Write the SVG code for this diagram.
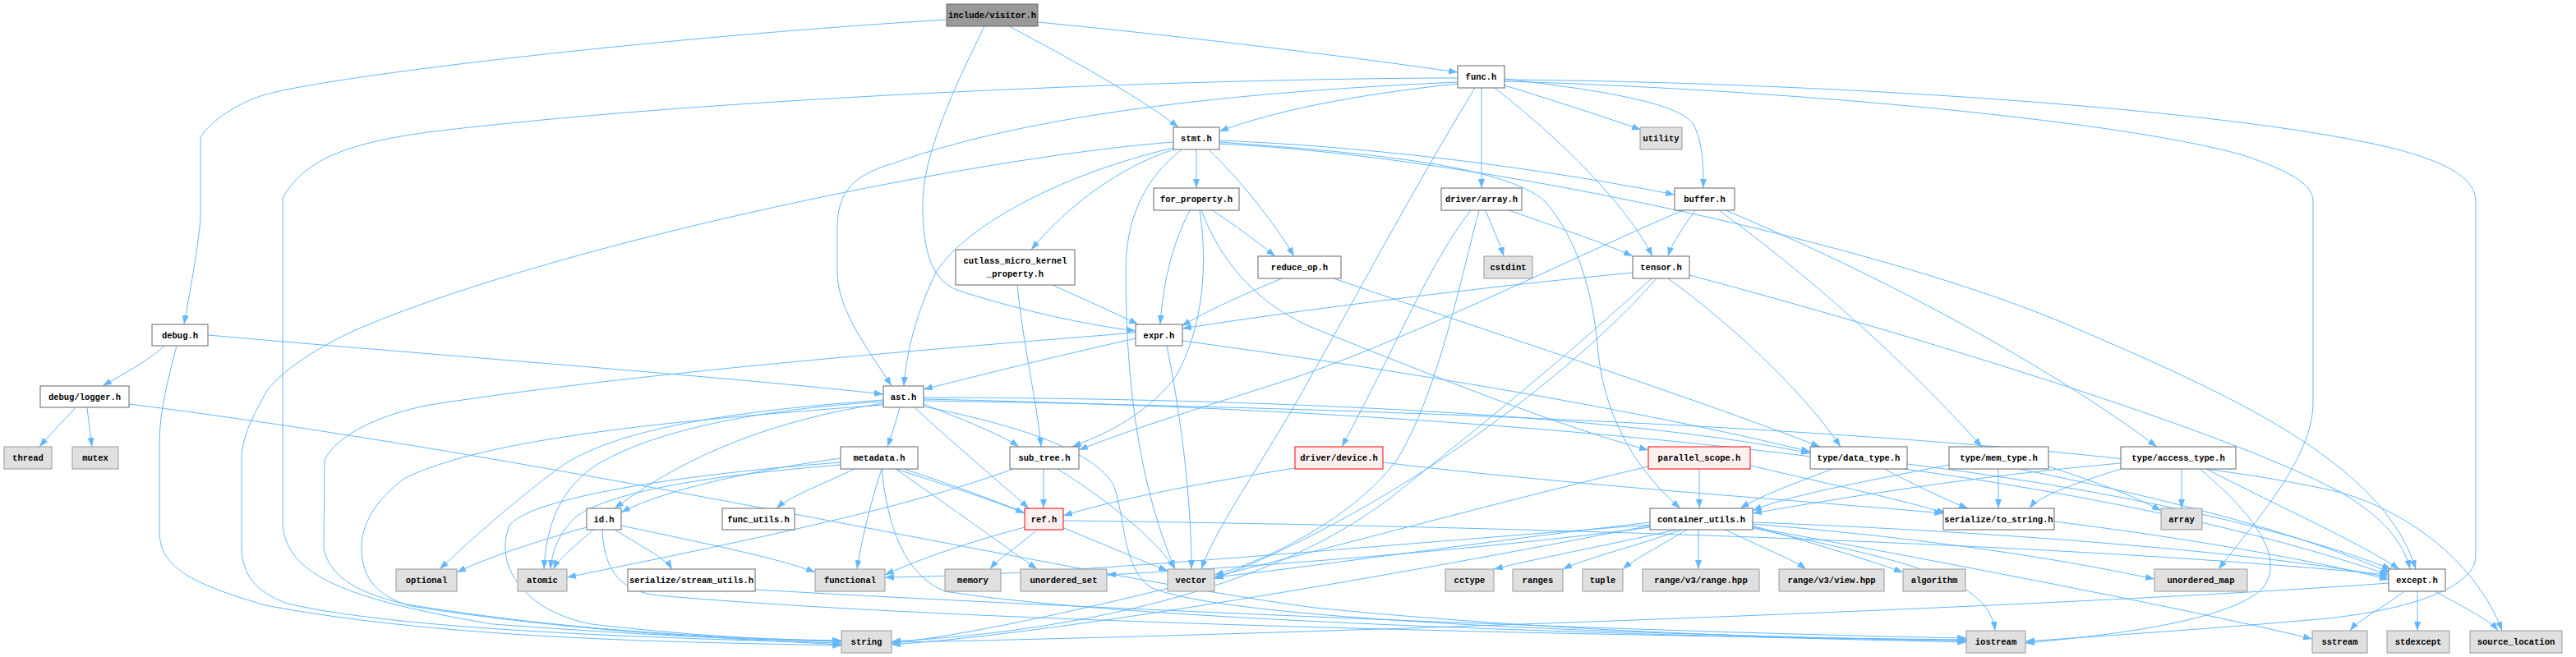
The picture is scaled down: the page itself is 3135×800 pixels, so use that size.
<svg xmlns="http://www.w3.org/2000/svg" width="3135" height="800" viewBox="0 0 3135 800">
<defs>
<marker id="ah" markerWidth="11" markerHeight="8" refX="11" refY="4" orient="auto" markerUnits="userSpaceOnUse"><path d="M0,0 L11,4 L0,8 z" fill="#63b8ff"/></marker>
<style>
rect{stroke-width:1}
.n rect{fill:#ffffff;stroke:#666666}
.s rect{fill:#e0e0e0;stroke:#999999}
.r rect{fill:#fff0f0;stroke:#ff0000}
.root rect{fill:#999999;stroke:#666666}
text{font-family:"Liberation Mono","DejaVu Sans Mono",monospace;font-size:10.5px;font-weight:bold;fill:#000000;text-anchor:middle}
#edges path{fill:none;stroke:#63b8ff;stroke-width:1;marker-end:url(#ah)}
</style>
</defs>
<rect width="3135" height="800" fill="#ffffff"/>
<g id="edges">
<path d="M1152,24 C800,45 380,95 317,117 C280,130 255,150 244,167 L244,267 C240,310 230,360 224,395"/>
<path d="M1198,32 C1150,130 1120,200 1123,260 C1125,320 1140,345 1170,355 C1250,380 1320,395 1382,403"/>
<path d="M1263,27 C1450,45 1650,70 1774,88"/>
<path d="M1228,32 C1300,70 1390,120 1434,155"/>
<path d="M1774,95 C1500,95 900,115 520,161 C420,175 370,195 344,241 L344,640 C350,700 420,730 600,760 C800,775 950,780 1024,781"/>
<path d="M1774,100 C1500,112 1250,140 1090,198 C1030,215 1019,240 1019,280 L1019,333 C1020,380 1060,430 1085,470"/>
<path d="M1774,102 C1650,115 1550,135 1484,160"/>
<path d="M1795,107 C1720,230 1640,380 1600,450 C1540,560 1480,640 1462,693"/>
<path d="M1803,107 L1803,229"/>
<path d="M1819,107 C1900,170 1980,250 2011,312"/>
<path d="M1831,104 C1900,125 1960,145 1997,158"/>
<path d="M1831,96 C1950,110 2040,125 2060,150 C2072,170 2073,200 2073,229"/>
<path d="M1831,99 C2200,110 2600,150 2733,190 C2790,210 2815,225 2815,245 L2815,490 C2815,560 2740,640 2700,693"/>
<path d="M1831,97 C2200,100 2700,130 2910,180 C2970,195 3013,215 3013,245 L3013,677 C3013,710 2950,740 2833,753 C2700,765 2550,775 2465,781"/>
<path d="M1428,173 C1200,190 700,290 439,399 C380,425 330,460 320,485 C300,520 294,540 294,560 L294,667 C295,700 310,720 350,735 C500,770 850,778 1024,783"/>
<path d="M1428,180 C1300,210 1180,270 1140,330 C1115,380 1103,430 1100,470"/>
<path d="M1428,182 C1360,205 1300,250 1255,304"/>
<path d="M1438,182 C1390,220 1370,270 1370,330 C1370,480 1390,600 1430,693"/>
<path d="M1456,182 L1456,229"/>
<path d="M1471,182 C1510,220 1550,270 1575,312"/>
<path d="M1484,171 C1700,180 1900,210 2038,237"/>
<path d="M1484,173 C1650,185 1830,200 1880,245 C1920,290 1940,360 1945,430 C1955,520 2000,580 2045,619"/>
<path d="M1484,175 C1800,190 2300,300 2527,400 C2700,475 2900,560 2940,693"/>
<path d="M1448,256 C1425,300 1415,350 1412,395"/>
<path d="M1460,256 C1470,320 1465,400 1430,460 C1390,510 1340,530 1305,544"/>
<path d="M1475,256 C1505,275 1530,295 1552,312"/>
<path d="M1462,256 C1490,330 1540,375 1600,400 C1750,460 1900,520 2006,548"/>
<path d="M1560,339 C1510,360 1470,378 1438,397"/>
<path d="M1623,339 C1800,400 2050,480 2215,544"/>
<path d="M1281,347 C1320,365 1355,380 1385,395"/>
<path d="M1238,347 C1245,420 1262,490 1267,544"/>
<path d="M1790,256 C1740,320 1700,420 1633,544"/>
<path d="M1800,256 C1780,330 1750,480 1700,560 C1640,640 1520,690 1478,700"/>
<path d="M1808,256 C1815,275 1825,295 1830,312"/>
<path d="M1836,256 C1890,275 1950,295 1987,312"/>
<path d="M2063,256 C2050,275 2035,295 2030,312"/>
<path d="M2048,256 C1900,320 1700,420 1560,465 C1450,500 1370,525 1313,548"/>
<path d="M2092,256 C2180,320 2300,420 2412,544"/>
<path d="M2100,256 C2300,340 2500,450 2625,544"/>
<path d="M2056,335 C2300,400 2700,520 2850,600 C2900,630 2925,660 2933,693"/>
<path d="M2030,339 C2100,390 2190,470 2240,544"/>
<path d="M1987,332 C1800,350 1600,375 1439,400"/>
<path d="M2010,339 C1900,440 1800,520 1700,600 C1550,720 1300,770 1085,781"/>
<path d="M2016,339 C1920,450 1700,620 1478,705"/>
<path d="M1382,412 C1280,435 1200,455 1124,474"/>
<path d="M1382,405 C1200,420 800,450 523,493 C460,505 410,530 395,560 L394,667 C400,700 430,720 490,735 C700,770 900,778 1024,780"/>
<path d="M1420,421 C1440,520 1450,620 1450,693"/>
<path d="M1439,415 C1700,450 2000,500 2203,550"/>
<path d="M1095,496 C1090,515 1085,530 1080,544"/>
<path d="M1113,496 C1160,540 1220,590 1252,619"/>
<path d="M1124,492 C1170,510 1220,530 1240,544"/>
<path d="M1075,487 C900,500 750,520 680,570 C620,615 570,660 535,693"/>
<path d="M1075,489 C900,500 780,530 720,570 C680,600 665,640 662,693"/>
<path d="M1075,491 C950,510 840,550 748,619"/>
<path d="M1075,493 C850,510 600,530 493,582 C455,610 440,640 440,667 C440,700 455,725 500,738 C700,770 900,778 1024,785"/>
<path d="M1124,495 C1250,520 1330,550 1355,590 C1370,630 1365,690 1400,715 C1500,760 2100,775 2393,780"/>
<path d="M1124,484 C1600,485 2000,510 2203,552"/>
<path d="M1124,486 C1800,500 2500,560 2907,700"/>
<path d="M1124,488 C1900,500 2600,540 2850,600 C2950,630 3020,700 3045,768"/>
<path d="M1023,558 C900,575 800,600 756,624"/>
<path d="M1040,571 C1000,590 960,605 945,619"/>
<path d="M1073,571 C1060,610 1048,660 1043,693"/>
<path d="M1023,563 C800,580 640,610 620,640 C600,690 640,745 720,760 C850,775 950,780 1024,780"/>
<path d="M1090,571 C1150,590 1210,610 1247,625"/>
<path d="M1090,571 C1160,620 1230,670 1262,693"/>
<path d="M1100,571 C1250,620 1380,680 1421,695"/>
<path d="M1073,571 C1080,640 1100,700 1150,720 C1400,760 2100,775 2393,782"/>
<path d="M1023,566 C850,580 740,600 700,630 C680,650 672,670 670,693"/>
<path d="M1270,571 L1270,619"/>
<path d="M1287,571 C1350,610 1410,660 1430,693"/>
<path d="M1233,571 C1100,620 900,660 690,703"/>
<path d="M1262,645 C1240,665 1215,680 1205,693"/>
<path d="M1247,642 C1180,660 1120,680 1077,700"/>
<path d="M1294,634 C1800,640 2500,660 2907,700"/>
<path d="M1576,570 C1450,590 1350,610 1294,628"/>
<path d="M1683,563 C1900,590 2200,610 2365,625"/>
<path d="M2068,571 L2068,619"/>
<path d="M2130,567 C2230,590 2320,610 2368,625"/>
<path d="M2006,568 C1700,640 1300,760 1085,783"/>
<path d="M2230,571 C2180,590 2140,605 2118,619"/>
<path d="M2293,571 C2330,590 2360,605 2395,619"/>
<path d="M2321,565 C2600,600 2800,650 2910,693"/>
<path d="M2432,571 L2432,619"/>
<path d="M2372,566 C2250,590 2170,605 2133,622"/>
<path d="M2457,571 C2650,610 2800,650 2910,698"/>
<path d="M2493,568 C2560,590 2600,605 2630,622"/>
<path d="M2655,571 L2655,619"/>
<path d="M2581,571 C2520,590 2480,605 2470,619"/>
<path d="M2581,564 C2400,580 2250,605 2133,625"/>
<path d="M2685,571 C2780,620 2870,660 2920,693"/>
<path d="M2677,571 C2760,640 2780,690 2750,720 C2700,760 2550,775 2465,783"/>
<path d="M2040,645 C1950,665 1870,680 1818,693"/>
<path d="M2047,645 C1990,665 1930,680 1902,693"/>
<path d="M2053,645 C2020,665 1990,680 1975,693"/>
<path d="M2067,645 L2067,693"/>
<path d="M2100,645 C2140,665 2180,680 2198,693"/>
<path d="M2133,640 C2200,660 2270,680 2316,697"/>
<path d="M2133,643 C2300,680 2420,700 2428,768"/>
<path d="M2008,640 C1700,700 1300,770 1085,785"/>
<path d="M2008,636 C1800,660 1600,690 1478,703"/>
<path d="M2008,639 C1600,670 1300,700 1077,703"/>
<path d="M2008,642 C1800,670 1500,692 1347,700"/>
<path d="M2133,638 C2400,660 2550,690 2622,705"/>
<path d="M2133,636 C2500,650 2800,680 2907,703"/>
<path d="M2133,642 C2450,700 2700,750 2814,778"/>
<path d="M2500,635 C2700,660 2850,690 2907,706"/>
<path d="M2907,710 C2500,740 1500,775 1085,782"/>
<path d="M2926,720 C2900,740 2870,755 2860,768"/>
<path d="M2942,720 L2942,768"/>
<path d="M2963,720 C3000,740 3030,755 3040,768"/>
<path d="M714,642 C650,660 590,680 556,697"/>
<path d="M722,645 C700,665 680,680 673,693"/>
<path d="M748,645 C780,665 810,680 818,693"/>
<path d="M756,640 C850,660 950,680 992,697"/>
<path d="M733,645 C735,700 760,720 800,725 C1200,760 2000,775 2393,779"/>
<path d="M919,718 C1300,740 2000,770 2393,777"/>
<path d="M200,421 C180,440 150,455 125,470"/>
<path d="M215,421 C205,460 194,500 194,540 L194,650 C196,690 230,710 323,737 C550,780 850,782 1024,786"/>
<path d="M253,408 C500,430 900,460 1075,480"/>
<path d="M92,496 C75,515 60,530 48,544"/>
<path d="M106,496 C108,515 110,530 112,544"/>
<path d="M157,492 C700,560 1300,700 1600,740 C1900,770 2200,778 2393,780"/>
</g>
<g id="n-visitor" class="root"><rect x="1152" y="5" width="111" height="27"/><text x="1207.5" y="22">include/visitor.h</text></g>
<g id="n-func" class="n"><rect x="1774" y="80" width="57" height="27"/><text x="1802.5" y="97">func.h</text></g>
<g id="n-stmt" class="n"><rect x="1428" y="155" width="56" height="27"/><text x="1456" y="172">stmt.h</text></g>
<g id="n-utility" class="s"><rect x="1996" y="155" width="51" height="27"/><text x="2021.5" y="172">utility</text></g>
<g id="n-for_property" class="n"><rect x="1404" y="229" width="104" height="27"/><text x="1456" y="246">for_property.h</text></g>
<g id="n-driver_array" class="n"><rect x="1754" y="229" width="98" height="27"/><text x="1803" y="246">driver/array.h</text></g>
<g id="n-buffer" class="n"><rect x="2038" y="229" width="73" height="27"/><text x="2074.5" y="246">buffer.h</text></g>
<g id="n-cutlass" class="n"><rect x="1163" y="304" width="145" height="43"/><text x="1235.5" y="321">cutlass_micro_kernel</text><text x="1235.5" y="337">_property.h</text></g>
<g id="n-reduce_op" class="n"><rect x="1531" y="312" width="101" height="27"/><text x="1581.5" y="329">reduce_op.h</text></g>
<g id="n-cstdint" class="s"><rect x="1806" y="312" width="59" height="27"/><text x="1835.5" y="329">cstdint</text></g>
<g id="n-tensor" class="n"><rect x="1987" y="312" width="69" height="27"/><text x="2021.5" y="329">tensor.h</text></g>
<g id="n-debug" class="n"><rect x="185" y="395" width="68" height="26"/><text x="219" y="411.5">debug.h</text></g>
<g id="n-expr" class="n"><rect x="1382" y="395" width="57" height="26"/><text x="1410.5" y="411.5">expr.h</text></g>
<g id="n-ast" class="n"><rect x="1075" y="470" width="49" height="26"/><text x="1099.5" y="486.5">ast.h</text></g>
<g id="n-logger" class="n"><rect x="49" y="470" width="108" height="26"/><text x="103" y="486.5">debug/logger.h</text></g>
<g id="n-thread" class="s"><rect x="5" y="544" width="58" height="27"/><text x="34" y="561">thread</text></g>
<g id="n-mutex" class="s"><rect x="88" y="544" width="56" height="27"/><text x="116" y="561">mutex</text></g>
<g id="n-metadata" class="n"><rect x="1023" y="544" width="94" height="27"/><text x="1070" y="561">metadata.h</text></g>
<g id="n-sub_tree" class="n"><rect x="1229" y="544" width="84" height="27"/><text x="1271" y="561">sub_tree.h</text></g>
<g id="n-device" class="r"><rect x="1576" y="544" width="107" height="27"/><text x="1629.5" y="561">driver/device.h</text></g>
<g id="n-parallel_scope" class="r"><rect x="2006" y="544" width="124" height="27"/><text x="2068" y="561">parallel_scope.h</text></g>
<g id="n-data_type" class="n"><rect x="2203" y="544" width="118" height="27"/><text x="2262" y="561">type/data_type.h</text></g>
<g id="n-mem_type" class="n"><rect x="2372" y="544" width="121" height="27"/><text x="2432.5" y="561">type/mem_type.h</text></g>
<g id="n-access_type" class="n"><rect x="2581" y="544" width="140" height="27"/><text x="2651" y="561">type/access_type.h</text></g>
<g id="n-id" class="n"><rect x="714" y="619" width="42" height="26"/><text x="735" y="635.5">id.h</text></g>
<g id="n-func_utils" class="n"><rect x="879" y="619" width="88" height="26"/><text x="923" y="635.5">func_utils.h</text></g>
<g id="n-ref" class="r"><rect x="1247" y="619" width="47" height="26"/><text x="1270.5" y="635.5">ref.h</text></g>
<g id="n-container_utils" class="n"><rect x="2008" y="619" width="125" height="26"/><text x="2070.5" y="635.5">container_utils.h</text></g>
<g id="n-to_string" class="n"><rect x="2365" y="619" width="135" height="26"/><text x="2432.5" y="635.5">serialize/to_string.h</text></g>
<g id="n-array" class="s"><rect x="2630" y="619" width="50" height="26"/><text x="2655" y="635.5">array</text></g>
<g id="n-optional" class="s"><rect x="482" y="693" width="74" height="27"/><text x="519" y="710">optional</text></g>
<g id="n-atomic" class="s"><rect x="630" y="693" width="60" height="27"/><text x="660" y="710">atomic</text></g>
<g id="n-stream_utils" class="n"><rect x="764" y="693" width="155" height="27"/><text x="841.5" y="710">serialize/stream_utils.h</text></g>
<g id="n-functional" class="s"><rect x="992" y="693" width="85" height="27"/><text x="1034.5" y="710">functional</text></g>
<g id="n-memory" class="s"><rect x="1150" y="693" width="68" height="27"/><text x="1184" y="710">memory</text></g>
<g id="n-unordered_set" class="s"><rect x="1242" y="693" width="105" height="27"/><text x="1294.5" y="710">unordered_set</text></g>
<g id="n-vector" class="s"><rect x="1421" y="693" width="57" height="27"/><text x="1449.5" y="710">vector</text></g>
<g id="n-cctype" class="s"><rect x="1759" y="693" width="59" height="27"/><text x="1788.5" y="710">cctype</text></g>
<g id="n-ranges" class="s"><rect x="1841" y="693" width="61" height="27"/><text x="1871.5" y="710">ranges</text></g>
<g id="n-tuple" class="s"><rect x="1926" y="693" width="49" height="27"/><text x="1950.5" y="710">tuple</text></g>
<g id="n-range_hpp" class="s"><rect x="1999" y="693" width="142" height="27"/><text x="2070" y="710">range/v3/range.hpp</text></g>
<g id="n-view_hpp" class="s"><rect x="2165" y="693" width="128" height="27"/><text x="2229" y="710">range/v3/view.hpp</text></g>
<g id="n-algorithm" class="s"><rect x="2316" y="693" width="76" height="27"/><text x="2354" y="710">algorithm</text></g>
<g id="n-unordered_map" class="s"><rect x="2622" y="693" width="113" height="27"/><text x="2678.5" y="710">unordered_map</text></g>
<g id="n-except" class="n"><rect x="2907" y="693" width="69" height="27"/><text x="2941.5" y="710">except.h</text></g>
<g id="n-string" class="s"><rect x="1024" y="768" width="61" height="27"/><text x="1054.5" y="785">string</text></g>
<g id="n-iostream" class="s"><rect x="2393" y="768" width="72" height="27"/><text x="2429" y="785">iostream</text></g>
<g id="n-sstream" class="s"><rect x="2814" y="768" width="67" height="27"/><text x="2847.5" y="785">sstream</text></g>
<g id="n-stdexcept" class="s"><rect x="2905" y="768" width="76" height="27"/><text x="2943" y="785">stdexcept</text></g>
<g id="n-source_location" class="s"><rect x="3006" y="768" width="112" height="27"/><text x="3062" y="785">source_location</text></g>
</svg>
